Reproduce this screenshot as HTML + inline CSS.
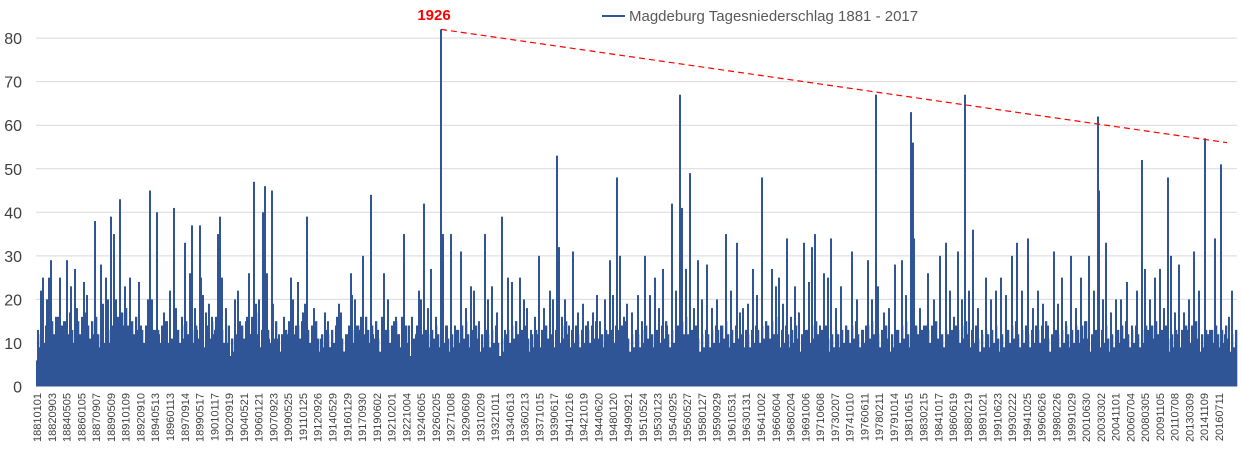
<!DOCTYPE html>
<html><head><meta charset="utf-8"><style>
html,body{margin:0;padding:0;background:#fff;}
svg{display:block;font-family:"Liberation Sans",sans-serif;}
</style></head><body>
<svg id="chart" width="1242" height="449" viewBox="0 0 1242 449" xmlns="http://www.w3.org/2000/svg">
<g id="grid"></g>
<g id="yticks"></g>
<g id="floor"></g>
<g id="bars"></g>
<g id="xticks"></g>
<g id="trend"></g>
<text x="434" y="20" text-anchor="middle" fill="#ff0000" font-weight="bold" font-size="15">1926</text>
<g>
<line x1="602" y1="16" x2="625" y2="16" stroke="#2f5597" stroke-width="2"/>
<text x="629" y="21" fill="#595959" font-size="15">Magdeburg Tagesniederschlag 1881 - 2017</text>
</g>
</svg>
<script>
const yTicks=[0,10,20,30,40,50,60,70,80];
const dateLabels=["18810101","18820903","18840505","18860105","18870907","18890509","18910109","18920910","18940513","18960113","18970914","18990517","19010117","19020919","19040521","19060121","19070923","19090525","19110125","19120926","19140529","19160129","19170930","19190602","19210201","19221004","19240605","19260205","19271008","19290609","19310209","19321011","19340613","19360213","19371015","19390617","19410216","19421019","19440620","19480120","19490921","19510524","19530123","19540925","19560527","19580127","19590929","19610531","19630131","19641002","19660604","19680204","19691006","19710608","19730207","19741010","19760611","19780211","19791014","19810615","19830215","19841017","19860619","19880219","19891021","19910623","19930222","19941025","19960626","19980226","19991029","20010630","20030302","20041101","20060704","20080305","20091105","20110708","20130309","20141109","20160711"];
const spikeBins=[0,1,4,6,8,10,12,14,16,19,21,23,25,27,30,33,34,38,40,43,44,47,50,53,58,60,64,66,69,71,74,77,79,81,83,85,88,90,93,95,98,100,102,104,106,109,111,113,115,117,120,122,125,127,130,133,137,139,142,145,148,150,153,155,158,160,163,164,166,169,172,175,178,181,183,185,187,189,192,195,198,201,203,206,208,210,212,214,217,219,222,223,226,228,230,232,235,236,239,242,245,247,250,252,254,256,258,261,263,266,268,270,272,275,277,279,281,284,286,288,291,293,296,298,300,302,304,307,309,312,314,315,318,320,322,324,326,329,331,334,336,338,341,343,345,347,349,351,353,355,357,359,362,365,367,370,372,375,377,380,382,384,387,389,391,394,397,399,404,406,410,
414,418,424,429,434,437,442,448,451,455,460,465,468,471,475,479,483,487,490,494,498,502,507,513,516,520,522,525,528,532,536,541,546,551,556,560,563,568,573,576,580,583,587,590,595,601,605,608,613,618,622,626,630,635,639,643,645,649,653,657,661,665,670,675,680,684,689,694,700,703,706,711,716,720,725,729,735,739,742,746,750,754,758,762,767,772,775,778,783,787,791,794,799,804,809,815,820,826,831,835,839,841,847,852,858,861,865,869,874,876,877,883,887,891,897,903,909,913,917,921,925,928,932,936,941,945,949,954,959,964,969,975,980,985,991,996,1001,1006,1011,1017,1021,1025,1029,1034,1039,1044,1048,1052,1057,1061,1062,1066,1069,1074,1079,1084,1090,1095,1100,1105,1108,1113,1118,1123,1127,1131,1134,1138,1142,1147,1152,1157,1162,1168,1173,1178,1184,1188,1192,1195];
const spikeValues=[6,13,22,25,8,20,25,29,9,6,16,25,14,15,29,17,23,27,18,9,7,24,21,8,38,7,28,19,25,20,39,35,20,12,43,9,23,11,25,14,11,13,24,14,7,4,20,45,20,13,40,12,4,17,15,22,41,18,7,16,33,7,26,37,18,13,37,25,21,17,19,16,13,35,39,25,7,18,14,11,20,22,15,8,7,16,26,12,47,19,20,9,40,46,26,11,45,19,14,12,8,16,5,15,25,20,12,24,8,17,19,39,9,4,18,12,7,11,8,17,15,9,8,6,16,19,17,8,10,14,26,21,20,12,13,16,30,10,12,44,12,10,13,6,16,26,8,20,7,13,15,16,12,16,35,10,14,16,11,14,22,20,42,9,18,27,11,16,82,35,14,
35,14,31,18,23,22,15,35,20,23,17,39,13,25,24,15,25,20,18,13,16,30,18,22,20,53,32,16,20,14,31,17,19,15,17,21,15,20,29,21,48,30,16,19,17,21,15,30,21,25,18,27,14,42,22,67,41,27,49,18,29,20,28,18,20,14,35,22,33,17,18,19,27,21,48,14,27,23,25,19,34,16,23,17,33,24,32,35,14,26,25,34,18,23,14,31,20,13,29,20,67,23,17,18,28,12,29,21,63,56,34,18,14,26,20,30,33,22,16,31,20,67,22,36,18,13,25,20,22,25,21,30,33,22,34,18,22,19,14,31,19,25,15,30,18,25,15,30,22,62,45,20,33,17,20,20,24,14,22,52,27,20,25,27,18,48,30,17,28,17,20,31,22,57,13,34,51,12,16,22];
const floorLevels=[12,14,13,12,15,14,12,13,16,14,12,11,13,10,13,12,11,14,12,10,13,15,12,13,11,12,14,13,11,12,10,12,14,13,11,13,12,10,11,12,12,11,13,12,11,12,10,13,12,11,12,11,13,12,12,13,11,12,13,11,12,11,13,12,14,12,11,12,13,12,11,12,13,14,12,12,11,13,12,11,12,13,12,14,12,11,13,12,12,13,11,12,13,12,11,12,11,13,12,12,13,11,12,12,13,11,12,11,13,12,12,13,12,11,12,13,11,12,12,11];
const trendStartBin=404, trendStartValue=82, trendEndBin=1190, trendEndValue=56;

const NS="http://www.w3.org/2000/svg";
const X0=37, BINS=1200, PW=1200;
const yScale=v=>386.5-v*4.355;
const xScale=b=>X0+b*PW/BINS;
function mk(tag,attrs,parent){const e=document.createElementNS(NS,tag);for(const k in attrs)e.setAttribute(k,attrs[k]);parent.appendChild(e);return e;}

const grid=document.getElementById('grid'), yt=document.getElementById('yticks');
yTicks.forEach(v=>{
  if(v>0){const l=mk('line',{x1:36,x2:1237,y1:yScale(v),y2:yScale(v),stroke:'#d9d9d9','stroke-width':1},grid);
  
  }
  const t=mk('text',{x:22,y:yScale(v)+6,'text-anchor':'end','font-size':16,fill:'#404040'},yt);
  t.textContent=v;
  
  
});

const fl=document.getElementById('floor');
const seg=BINS/floorLevels.length;
floorLevels.forEach((v,i)=>{
  const sub=[v, v-3, v+1, v-2, v+2];
  sub.forEach((s,j)=>{
    const r=mk('rect',{x:xScale(i*seg+j*seg/5),y:yScale(s),width:seg/5+0.3,height:yScale(0)-yScale(s),fill:'#2f5597'},fl);
    
    
  });
});

const bars=document.getElementById('bars');
spikeBins.forEach((b,i)=>{
  const v=spikeValues[i];
  const r=mk('rect',{x:xScale(b)-1,y:yScale(v),width:2,height:yScale(0)-yScale(v),fill:'#2f5597'},bars);
  
  
});

const xt=document.getElementById('xticks');
const step=(1219-37)/(dateLabels.length-1);
dateLabels.forEach((s,i)=>{
  const x=37+i*step;
  const t=mk('text',{x:0,y:0,'text-anchor':'end','font-size':11,fill:'#404040',transform:`translate(${x+4},393) rotate(-90)`},xt);
  t.textContent=s;
  
  
});

const tr=mk('line',{x1:xScale(trendStartBin),y1:yScale(trendStartValue),x2:xScale(trendEndBin),y2:yScale(trendEndValue),stroke:'#ff0000','stroke-width':1.2,'stroke-dasharray':'6,4'},document.getElementById('trend'));


</script>
</body></html>
